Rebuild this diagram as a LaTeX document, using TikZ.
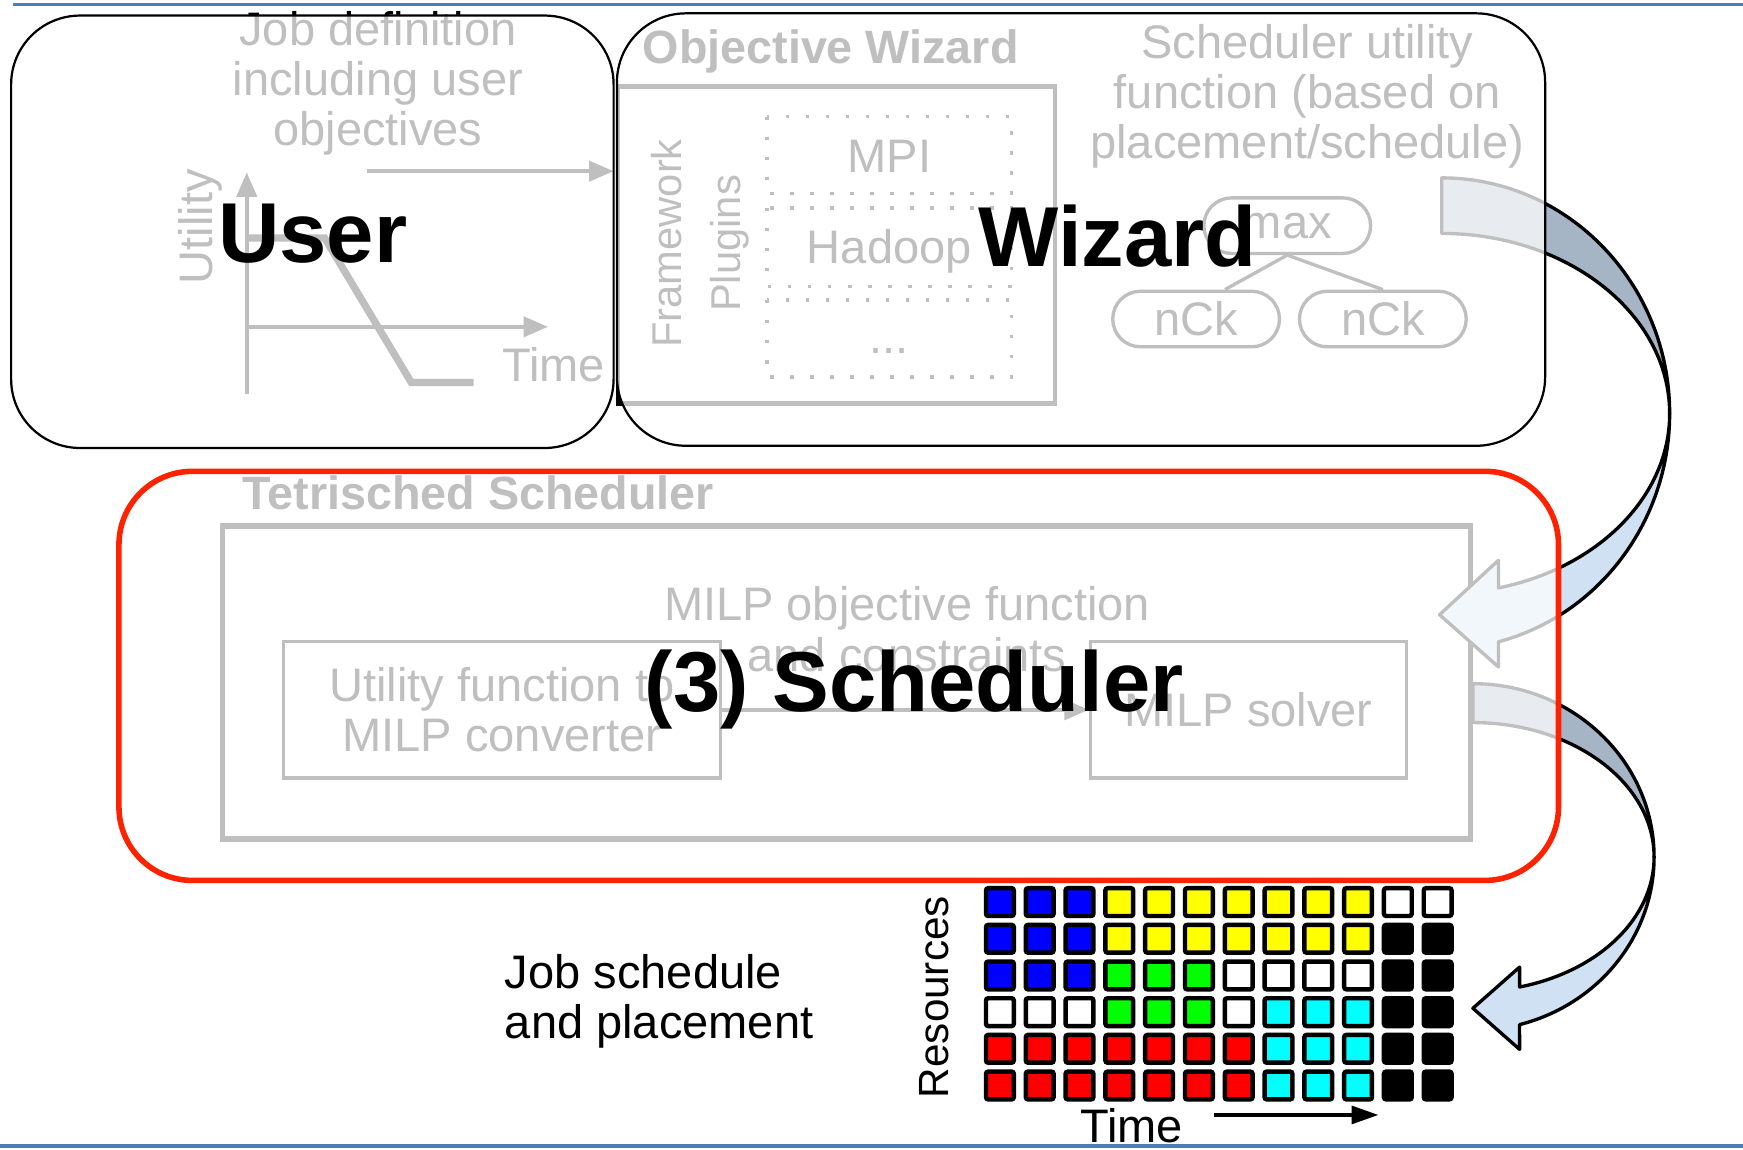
\documentclass[tikz,border=0pt]{standalone}
\usepackage{fontspec}
\setmainfont{Liberation Sans}
\usetikzlibrary{arrows.meta}

\definecolor{rulecol}{RGB}{74,126,187}
\definecolor{hired}{RGB}{255,34,0}
\definecolor{backface}{RGB}{166,181,197}
\definecolor{frontface}{RGB}{207,225,242}
\definecolor{cellB}{RGB}{0,0,255}
\definecolor{cellY}{RGB}{255,255,0}
\definecolor{cellG}{RGB}{0,255,0}
\definecolor{cellC}{RGB}{0,255,255}
\definecolor{cellR}{RGB}{255,0,0}
\definecolor{cellK}{RGB}{0,0,0}
\definecolor{cellW}{RGB}{255,255,255}

\begin{document}
\begin{tikzpicture}[x=1pt, y=-1pt,
    txt/.style={font=\fontsize{42.3}{45}\selectfont, align=center, inner sep=0pt},
    heavy/.style={font=\fontsize{76.5}{80}\selectfont\bfseries, inner sep=0pt},
    boldlbl/.style={font=\fontsize{42}{46}\selectfont\bfseries, inner sep=0pt},
    greyarrow/.style={line width=3.5pt, -{Triangle[length=22pt,width=18pt]}},
    pill/.style={txt, draw, line width=3pt, rounded corners=25pt,
      minimum width=150pt, minimum height=50pt},
    dotbox/.style={line width=3pt, dash pattern=on 3pt off 15pt},
    veil/.style={fill=white, fill opacity=0.75},
    bendarrow/.style={draw=black, line width=3pt, line join=round},
    cell/.style={line width=4pt, rounded corners=2pt}]
  \useasboundingbox (0,0) rectangle (1568,1034);

  % slide rules
  \draw[rulecol, line width=3.5pt] (12,4) -- (1568,4);
  \draw[rulecol, line width=3pt] (0,1031) -- (1568,1031);

  % user: job definition and utility curve
  \node[txt] (jobdef) at (340,75) {Job definition\\including user\\objectives};
  \coordinate (orig) at (222,294);
  \coordinate (jobout) at (330,154);
  \coordinate (wizin) at (552,154);
  \draw[greyarrow] (222,354) -- (222,155);
  \draw[greyarrow] (orig) -- (493,294);
  \node[txt, rotate=90] (utillbl) at (180,204) {Utility};
  \node[txt] (timelbl) at (498,328) {Time};
  \draw[line width=6.5pt] (222,214) -- (292,214) -- (370,344) -- (426,344);
  \draw[greyarrow] (jobout) -- (wizin);

  % wizard: plugins and utility tree
  \node[boldlbl, anchor=base west] (objwiz) at (578,57) {Objective Wizard};
  \draw[line width=4pt] (556,78) rectangle (949,363);
  \node[txt, rotate=90, font=\fontsize{37.5}{53}\selectfont] (plugins) at (630,219) {Framework\\Plugins};
  \foreach \top/\bot in {105/174,187/258,270/339}
    \draw[dotbox] (690,\top) rectangle (910,\bot);
  \node[txt] (mpi) at (800,141) {MPI};
  \node[txt] (hadoop) at (800,226) {Hadoop};
  \node[txt] (more) at (800,316) {...};
  \node[txt] (schedfn) at (1176,87) {Scheduler utility\\function (based on\\placement/schedule)};
  \node[pill] (max) at (1158,203) {max};
  \node[pill] (nckA) at (1076,287) {nCk};
  \node[pill] (nckB) at (1244,287) {nCk};
  \draw[line width=3pt] (max.south) -- ([xshift=26pt]nckA.north);
  \draw[line width=3pt] (max.south) -- (nckB.north);

  % scheduler internals
  \node[boldlbl, anchor=base west] (tetris) at (218,458) {Tetrisched Scheduler};
  \draw[line width=5pt] (200,473) rectangle (1323,755);
  \node[txt] (milpobj) at (816,566) {MILP objective function\\and constraints};
  \node[txt, draw, line width=3pt, minimum width=393pt, minimum height=123pt] (conv) at (451.5,638.5) {Utility function to\\MILP converter};
  \node[txt, draw, line width=3pt, minimum width=284pt, minimum height=123pt] (solver) at (1123,638.5) {MILP solver};
  \draw[greyarrow] (conv) -- (solver);

  % bent block arrows (back face, then front face with head)
  \filldraw[bendarrow, fill=backface] (1297,160)
    arc[start angle=-90, end angle=0, x radius=205, y radius=212]
    arc[start angle=0, end angle=-90, x radius=205, y radius=162] -- cycle;
  \filldraw[bendarrow, fill=frontface] (1502,372)
    arc[start angle=0, end angle=75.6, x radius=205, y radius=212]
    -- (1348,600) -- (1295,553) -- (1348,504) -- (1348,528.9)
    arc[start angle=75.6, end angle=0, x radius=205, y radius=162] -- cycle;
  \filldraw[bendarrow, fill=backface] (1325,615)
    arc[start angle=-90, end angle=0, x radius=163, y radius=156]
    arc[start angle=0, end angle=-90, x radius=163, y radius=121] -- cycle;
  \filldraw[bendarrow, fill=frontface] (1488,771)
    arc[start angle=0, end angle=75.07, x radius=163, y radius=156]
    -- (1367,944) -- (1325,907) -- (1367,870) -- (1367,887.9)
    arc[start angle=75.07, end angle=0, x radius=163, y radius=121] -- cycle;

  % veils over the three stages
  \filldraw[veil, draw=black, line width=2pt, rounded corners=62pt] (10,14) rectangle (552,403);
  \filldraw[veil, draw=black, line width=2pt, rounded corners=62pt] (555,12) rectangle (1390,401);
  \filldraw[veil, draw=hired, line width=5pt, rounded corners=66pt] (107,424) rectangle (1402,792);

  \node[heavy, anchor=base west] (userlbl) at (196,236) {User};
  \node[heavy, anchor=base west] (wizlbl) at (880,240) {Wizard};
  \node[heavy, anchor=base west] (schedlbl) at (580,640) {(3) Scheduler};

  % resulting schedule
  \node[txt, rotate=90, font=\fontsize{38}{42}\selectfont] (resources) at (840,897) {Resources};
  \foreach \row [count=\r from 0] in {{B,B,B,Y,Y,Y,Y,Y,Y,Y,W,W},
                                     {B,B,B,Y,Y,Y,Y,Y,Y,Y,K,K},
                                     {B,B,B,G,G,G,W,W,W,W,K,K},
                                     {W,W,W,G,G,G,W,C,C,C,K,K},
                                     {R,R,R,R,R,R,R,C,C,C,K,K},
                                     {R,R,R,R,R,R,R,C,C,C,K,K}} {
    \foreach \c [count=\k from 0] in \row
      \filldraw[cell, fill=cell\c] ({887+35.8*\k},{799+33*\r}) rectangle ++(25,25);
  }
  \node[txt] (timeaxis) at (1018,1013) {Time};
  \coordinate (tstart) at (1092,1003);
  \coordinate (tend) at (1240,1003);
  \draw[line width=3pt, -{Triangle[length=24pt,width=16pt]}] (tstart) -- (tend);
  \node[txt, align=left, anchor=west] (jobsched) at (454,901) {Job schedule\\and placement};
\end{tikzpicture}
\end{document}
